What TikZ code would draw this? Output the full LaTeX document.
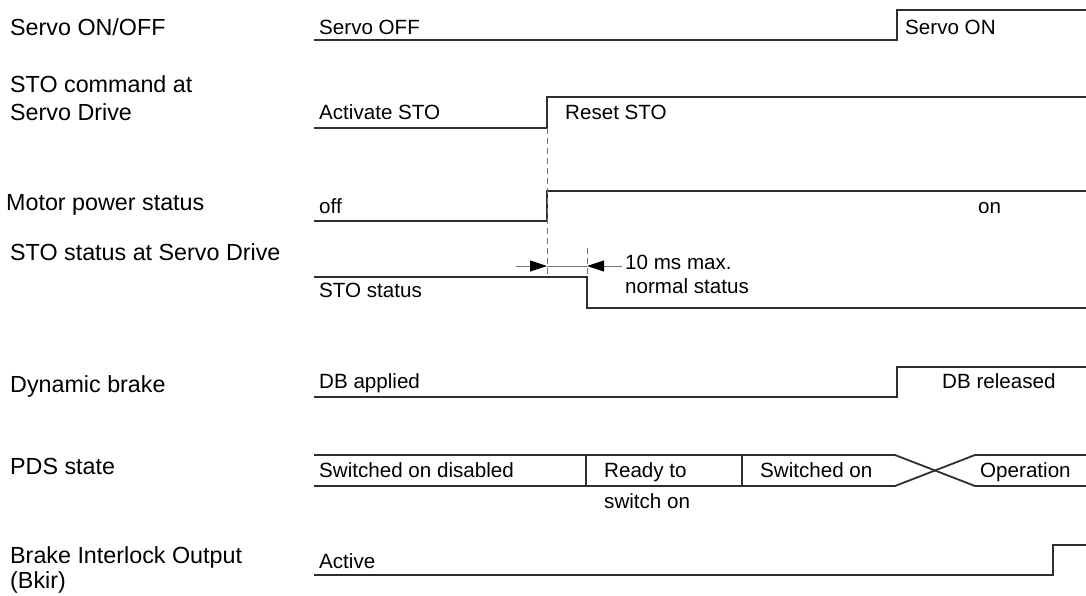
\documentclass[tikz,border=0pt]{standalone}
\usepackage{fontspec}
\setmainfont{Liberation Sans}
\usetikzlibrary{arrows.meta}
\begin{document}
\begin{tikzpicture}[x=1pt,y=-1pt,
  lbl/.style={anchor=base west,inner sep=0pt,font=\fontsize{23.3}{28}\selectfont,align=left},
  sig/.style={anchor=base west,inner sep=0pt,font=\fontsize{20.6}{31}\selectfont},
  wave/.style={line width=1.8pt,draw=black!82,line join=miter},
  guide/.style={line width=0.9pt,draw=black!55,dash pattern=on 6pt off 4pt},
  dim/.style={line width=0.9pt,draw=black!55},
  tip/.style={-{Triangle[length=17pt,width=11pt,color=black,fill=black]},line width=0.9pt,draw=black!55}]
\useasboundingbox (0,0) rectangle (1086,596);
% left labels
\node[lbl] (l1) at (10,36) {Servo ON/OFF};
\node[lbl] (l2) at (10,92.5) {STO command at};
\node[lbl] (l2b) at (10,121) {Servo Drive};
\node[lbl] (l3) at (6,211) {Motor power status};
\node[lbl] (l4) at (10,260) {STO status at Servo Drive};
\node[lbl] (l5) at (10,392) {Dynamic brake};
\node[lbl] (l6) at (10,474) {PDS state};
\node[lbl] (l7) at (10,563) {Brake Interlock Output};
\node[lbl] (l7b) at (10,588) {(Bkir)};
% Servo ON/OFF
\draw[wave] (314,40) -- (897,40) -- (897,10) -- (1086,10);
\node[sig] (s1a) at (319,34.5) {Servo OFF};
\node[sig] (s1b) at (905,35) {Servo ON};
% STO command
\draw[wave] (314,128) -- (547,128) -- (547,97) -- (1086,97);
\node[sig] (s2a) at (319,120) {Activate STO};
\node[sig] (s2b) at (565,120) {Reset STO};
% Motor power
\draw[wave] (314,221) -- (547,221) -- (547,191) -- (1086,191);
\node[sig] (s3a) at (319,213) {off};
\node[sig] (s3b) at (978,213) {on};
% guides
\coordinate (g1t) at (547,128);
\coordinate (g1b) at (547,276);
\coordinate (g2t) at (587,248);
\coordinate (g2b) at (587,277);
\draw[guide] (g1t) -- (g1b);
\draw[guide] (g2t) -- (g2b);
% STO status
\draw[wave] (314,277) -- (587,277) -- (587,308) -- (1086,308);
\node[sig] (s4a) at (319,297) {STO status};
% dimension
\coordinate (d1) at (516,266);
\coordinate (d2) at (547,266);
\coordinate (d3) at (587,266);
\coordinate (d4) at (622,266);
\draw[dim] (d2) -- (d3);
\draw[tip] (d1) -- (d2);
\draw[tip] (d4) -- (d3);
\node[sig] (s4b) at (625,269) {10 ms max.};
\node[sig] (s4c) at (625,293.5) {normal status};
% Dynamic brake
\draw[wave] (314,397) -- (897,397) -- (897,367) -- (1086,367);
\node[sig] (s5a) at (319,388) {DB applied};
\node[sig] (s5b) at (942,388) {DB released};
% PDS state
\draw[wave] (314,455) -- (895,455) -- (975,486) -- (1086,486);
\draw[wave] (314,486) -- (895,486) -- (975,455) -- (1086,455);
\draw[wave] (586,455) -- (586,486);
\draw[wave] (742,455) -- (742,486);
\node[sig] (p1) at (319,477) {Switched on disabled};
\node[sig] (p2) at (604,477) {Ready to};
\node[sig] (p2b) at (604,508) {switch on};
\node[sig] (p3) at (760,477) {Switched on};
\node[sig] (p4) at (980,477) {Operation};
% Brake interlock
\draw[wave] (314,575) -- (1053,575) -- (1053,545) -- (1086,545);
\node[sig] (b1) at (319,568) {Active};
\end{tikzpicture}
\end{document}
